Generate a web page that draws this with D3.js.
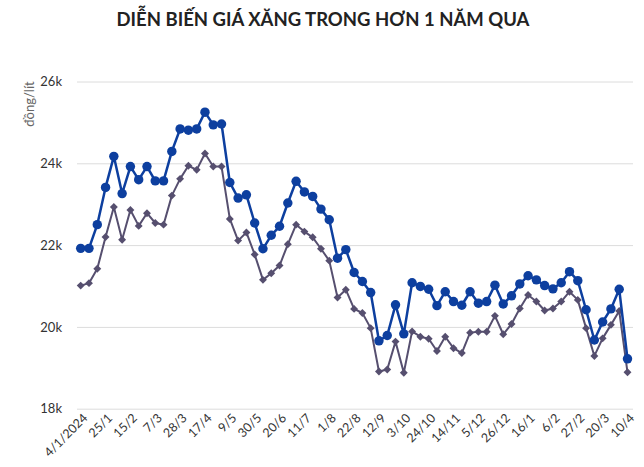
<!DOCTYPE html>
<html>
<head>
<meta charset="utf-8">
<script src="https://cdn.jsdelivr.net/npm/d3@7"></script>
<style>
  body { margin: 0; background: #fff; }
  svg { font-family: Lato, "Noto Sans", sans-serif; }
</style>
</head>
<body>
<div id="chart"></div>
<script>
let w = 644;
let h = 467;

// weekly price adjustment dates (every 3rd one is labelled)
let dates = ["4/1/2024","11/1","18/1","25/1","1/2","8/2","15/2","22/2","29/2","7/3",
  "14/3","21/3","28/3","4/4","11/4","17/4","24/4","3/5","9/5","16/5",
  "23/5","30/5","6/6","13/6","20/6","27/6","4/7","11/7","18/7","25/7",
  "1/8","8/8","15/8","22/8","29/8","5/9","12/9","19/9","26/9","3/10",
  "10/10","17/10","24/10","31/10","7/11","14/11","21/11","28/11","5/12","12/12",
  "19/12","26/12","2/1","9/1","16/1","23/1","31/1","6/2","13/2","20/2",
  "27/2","6/3","13/3","20/3","27/3","3/4","10/4"];

let ron95 = [21920,21920,22500,23410,24170,23260,23920,23600,23920,23570,
  23570,24290,24840,24810,24840,25250,24940,24960,23530,23150,
  23230,22540,21910,22240,22460,23030,23560,23300,23190,22880,
  22620,21680,21890,21330,21110,20840,19660,19790,20540,19830,
  21080,20990,20920,20520,20860,20620,20530,20860,20580,20620,
  21020,20560,20760,21050,21250,21150,21010,20930,21080,21350,
  21130,20420,19680,20120,20440,20920,19220];

let e5ron92 = [21010,21070,21420,22200,22930,22130,22860,22470,22780,22540,
  22500,23210,23620,23940,23840,24240,23920,23920,22640,22110,
  22310,21770,21150,21310,21500,22020,22500,22330,22190,21910,
  21620,20720,20910,20440,20340,19970,18910,18960,19640,18880,
  19890,19760,19710,19410,19760,19480,19360,19860,19880,19880,
  20270,19820,20070,20450,20780,20620,20400,20450,20620,20860,
  20660,19970,19290,19720,20050,20390,18890];

let yTicks = [18000, 20000, 22000, 24000, 26000];

let viz = d3.select("#chart")
  .append("svg")
  .attr("width", w)
  .attr("height", h)
;

let xScale = d3.scalePoint().domain(dates).range([80.7, 627.5]);
let yScale = d3.scaleLinear().domain([18000, 26000]).range([408.7, 81.5]);

// title
viz.append("text")
  .attr("x", 323)
  .attr("y", 26)
  .attr("text-anchor", "middle")
  .attr("font-size", 18.5)
  .attr("font-weight", "bold")
  .attr("fill", "#222")
  .text("DIỄN BIẾN GIÁ XĂNG TRONG HƠN 1 NĂM QUA");

// y axis with gridlines
let yAxis = d3.axisLeft(yScale)
  .tickValues(yTicks)
  .tickSize(-(633 - 77))
  .tickPadding(15)
  .tickFormat(d => (d / 1000) + "k");

let yAxisGroup = viz.append("g")
  .attr("transform", "translate(77,0)")
  .call(yAxis);
yAxisGroup.select(".domain").remove();
yAxisGroup.selectAll("line").attr("stroke", "#dcdcdc");
yAxisGroup.selectAll("text")
  .attr("font-size", 13)
  .attr("fill", "#333")
  .attr("font-family", "Lato, 'Noto Sans', sans-serif");

viz.append("text")
  .attr("transform", "translate(34,104) rotate(-90)")
  .attr("text-anchor", "middle")
  .attr("font-size", 13)
  .attr("fill", "#666")
  .text("đồng/lít");

// x axis labels, every third date
let xAxis = d3.axisBottom(xScale)
  .tickValues(dates.filter((d, i) => i % 3 == 0))
  .tickSize(0)
  .tickPadding(0);

let xAxisGroup = viz.append("g")
  .attr("transform", "translate(0,408.7)")
  .call(xAxis);
xAxisGroup.select(".domain").remove();
xAxisGroup.selectAll("text")
  .attr("font-size", 12.5)
  .attr("fill", "#333")
  .attr("font-family", "Lato, 'Noto Sans', sans-serif")
  .attr("text-anchor", "end")
  .attr("dy", "0.35em")
  .attr("transform", "translate(4,7) rotate(-45)");

function drawSeries(values, color, width, cls, symbolType, symbolSize) {
  let pts = values.map((v, i) => [xScale(dates[i]), yScale(v)]);
  viz.append("path")
    .datum(pts)
    .attr("fill", "none")
    .attr("stroke", color)
    .attr("stroke-width", width)
    .attr("stroke-linejoin", "round")
    .attr("d", d3.line());

  viz.selectAll("." + cls).data(pts).enter()
    .append("path")
    .attr("class", cls)
    .attr("transform", d => "translate(" + d[0] + "," + d[1] + ")")
    .attr("d", d3.symbol().type(symbolType).size(symbolSize))
    .attr("fill", color);
}

drawSeries(e5ron92, "#564f6f", 2, "grey", d3.symbolDiamond2, 40);
drawSeries(ron95, "#0d3f9f", 2.5, "blue", d3.symbolCircle, 70);
</script>
</body>
</html>
